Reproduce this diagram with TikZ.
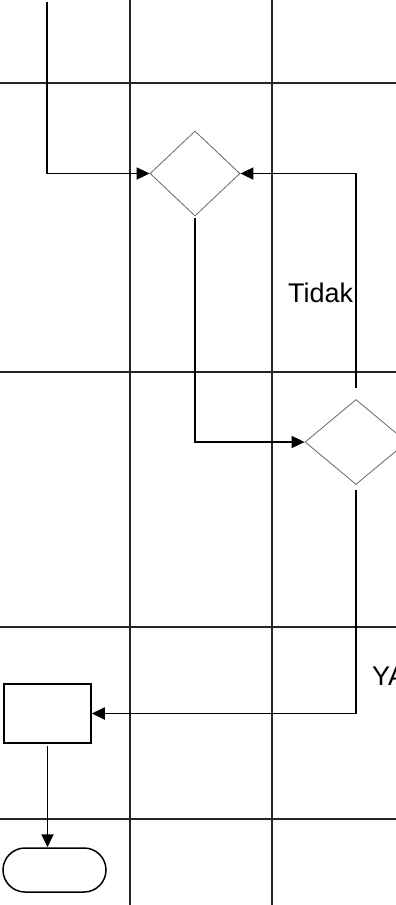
\documentclass[tikz,border=0pt]{standalone}
\usepackage{fontspec}
\setmainfont{Liberation Sans}
\usetikzlibrary{shapes.geometric,arrows.meta}
\begin{document}
\begin{tikzpicture}[x=1pt,y=-1pt,
  gridline/.style={draw=black!85,line width=1.1pt},
  conn/.style={draw=black,line width=1.8pt,-{Triangle[length=13pt,width=12pt]}},
  dec/.style={draw=black!60,line width=0.8pt,diamond,inner sep=0pt},
  procbox/.style={draw=black,line width=1.5pt,rectangle,inner sep=0pt,minimum width=87pt,minimum height=59pt},
  termbox/.style={draw=black,line width=1.5pt,rectangle,rounded corners=22pt,inner sep=0pt,minimum width=103pt,minimum height=44pt},
  lbl/.style={font=\fontsize{27}{30}\selectfont,inner sep=0pt,anchor=base west}]
\useasboundingbox (0,0) rectangle (396,905);
% grid
\draw[gridline] (130,0) -- (130,905);
\draw[gridline] (272,0) -- (272,905);
\draw[gridline] (0,83) -- (396,83);
\draw[gridline] (0,372) -- (396,372);
\draw[gridline] (0,627) -- (396,627);
\draw[gridline] (0,819) -- (396,819);
% nodes
\node[dec,minimum width=90pt,minimum height=85pt] (d1) at (195,173.5) {};
\node[dec,minimum width=102pt,minimum height=85pt] (d2) at (356,442) {};
\node[procbox] (box) at (47.5,713.5) {};
\node[termbox] (term) at (54.5,870) {};
\node[lbl] (tidak) at (288,302) {Tidak};
\node[lbl] (ya) at (372,685) {YA};
\coordinate (s1) at (47,2);
% connectors
\draw[conn] (s1) |- (d1.west);
\draw[conn] ([yshift=-2pt]d1.south) |- (d2.west);
\draw[conn] ([yshift=11pt]d2.north) |- (d1.east);
\draw[conn] ([yshift=-5pt]d2.south) |- (box.east);
\draw[conn] ([yshift=-2pt]box.south) -- (box.south |- term.north);
\end{tikzpicture}
\end{document}
